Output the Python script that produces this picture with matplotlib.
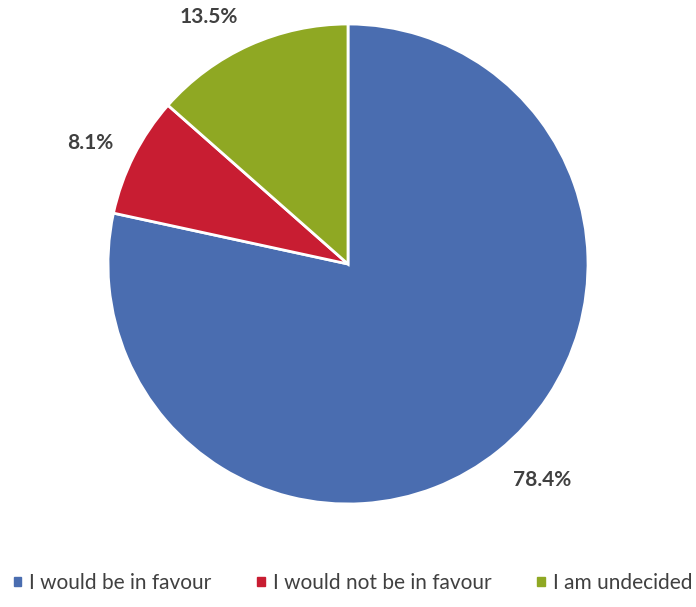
import matplotlib
matplotlib.use("Agg")
import matplotlib.pyplot as plt
import numpy as np

categories = ["I would be in favour", "I would not be in favour", "I am undecided"]
values = [78.4, 8.1, 13.5]
labels = ["78.4%", "8.1%", "13.5%"]
colors = ["#4A6DB0", "#C81D32", "#8FA823"]

plt.rcParams['font.family'] = ['Lato', 'DejaVu Sans']

fig = plt.figure(figsize=(6.96, 6.07), dpi=100)
cx, cy, r = 348, 264, 240
W, H = 696, 607
ax = fig.add_axes([(cx - r) / W, (H - cy - r) / H, 2 * r / W, 2 * r / H])
wedges, _ = ax.pie(values, colors=colors, startangle=90, counterclock=False,
                   wedgeprops=dict(edgecolor="white", linewidth=2.0))
ax.set_xlim(-1, 1)
ax.set_ylim(-1, 1)
ax.set_aspect("equal")
ax.axis("off")

# label positions (data coords of pie)
label_pos = [(0.81, -0.90), (-1.075, 0.505), (-0.58, 1.03)]
for lab, (x, y) in zip(labels, label_pos):
    ax.text(x, y, lab, ha="center", va="center", fontsize=15, fontweight="bold",
            color="#404040", clip_on=False)

handles = [plt.Rectangle((0, 0), 1, 1, color=c) for c in colors]
fig.legend(handles, categories, loc="center", bbox_to_anchor=(0.5 + 5 / W, (H - 583) / H),
           ncol=3, frameon=False, fontsize=15, handlelength=0.35, handleheight=0.35,
           columnspacing=2.2, handletextpad=0.4, labelcolor="#404040")

fig.savefig("out.png", dpi=100, facecolor="white")
